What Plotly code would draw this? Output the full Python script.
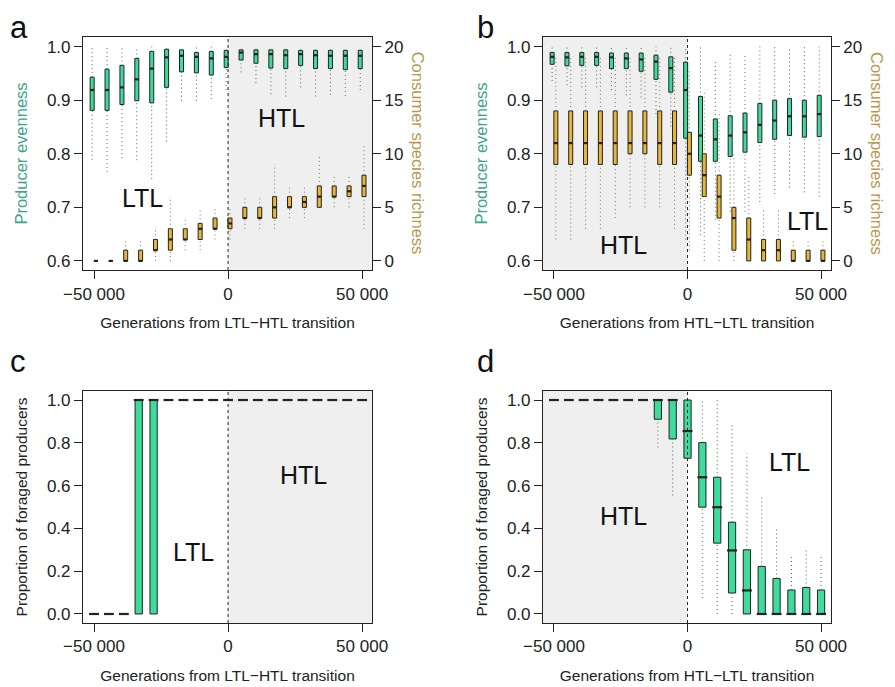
import plotly.graph_objects as go

# generations relative to the transition (box positions)
gens = [-50000, -44444, -38889, -33333, -27778, -22222, -16667, -11111, -5556, 0,
        5556, 11111, 16667, 22222, 27778, 33333, 38889, 44444, 50000]

# ---- panel a: LTL -> HTL ----
a_even_q1 = [.881, .881, .892, .899, .895, .924, .953, .951, .947, .961, .975, .969, .960, .959, .965, .959, .959, .957, .959]
a_even_med = [.919, .919, .924, .939, .959, .980, .983, .981, .978, .981, .989, .986, .986, .984, .986, .984, .983, .983, .983]
a_even_q3 = [.943, .958, .965, .978, .991, .995, .994, .989, .991, .993, .994, .994, .994, .994, .993, .993, .993, .993, .993]
a_even_lo = [.789, .766, .792, .788, .753, .823, .899, .899, .902, .919, .952, .932, .911, .907, .924, .907, .910, .908, .919]
a_even_hi = [1.0] * 19

a_rich_q1 = [0, 0, 0, 0, 1, 1, 2, 2, 3, 3, 4, 4, 4, 5, 5, 5, 6, 6, 6]
a_rich_med = [0, 0, 0, 0, 1, 2, 2, 3, 3, 3.5, 4, 4, 5, 5, 5.5, 6, 6, 6.5, 7]
a_rich_q3 = [0, 0, 1, 1, 2, 3, 3, 3.5, 4, 4, 5, 5, 6, 6, 6, 7, 7, 7, 8]
a_rich_lo = [0, 0, 0, 0, 0, 0, 1, 1, 2, 2, 3, 3, 3, 4, 4, 5, 5, 5, 3]
a_rich_hi = [0, 0, 2, 2, 3, 6, 4, 5, 5, 5, 6, 6, 9, 7, 7, 10, 8, 8, 11]

# ---- panel b: HTL -> LTL ----
b_even_q1 = [.967, .964, .965, .965, .959, .959, .954, .939, .915, .829, .786, .786, .795, .803, .821, .827, .834, .831, .832]
b_even_med = [.981, .980, .981, .981, .980, .978, .976, .972, .960, .919, .834, .827, .834, .840, .854, .862, .870, .870, .874]
b_even_q3 = [.989, .989, .989, .989, .988, .988, .988, .984, .981, .971, .907, .865, .871, .876, .894, .900, .903, .900, .909]
b_even_lo = [.936, .928, .924, .924, .919, .909, .905, .874, .851, .640, .648, .677, .692, .692, .710, .725, .737, .728, .720]
b_even_hi = [1.0, 1.0, 1.0, 1.0, 1.0, 1.0, 1.0, 1.0, 1.0, 1.0, 1.0, .975, .988, .988, 1.0, 1.0, 1.0, 1.0, 1.0]

b_rich_q1 = [9, 9, 9, 9, 9, 10, 10, 9, 9, 8, 6, 4, 1, 0, 0, 0, 0, 0, 0]
b_rich_med = [11, 11, 11, 11, 11, 11, 11, 11, 11, 10, 8, 6, 4, 2, 1, 1, 0, 0, 0]
b_rich_q3 = [14, 14, 14, 14, 14, 14, 14, 14, 14, 12, 10, 8, 5, 4, 2, 2, 1, 1, 1]
b_rich_lo = [2, 2, 3, 3, 4, 5, 5, 5, 3, 1, 0, 0, 0, 0, 0, 0, 0, 0, 0]
b_rich_hi = [19, 19, 19, 19, 19, 19, 19, 19, 19, 18, 16, 14, 10, 8, 5, 5, 2, 2, 2]

# ---- panel c: proportion of foraged producers, LTL -> HTL ----
c_q1 = [0, 0, 0, 0, 0] + [1] * 14
c_med = [0, 0, 0, 1, 1] + [1] * 14
c_q3 = [0, 0, 0, 1, 1] + [1] * 14
c_lo = [0, 0, 0, 0, 0] + [1] * 14
c_hi = [0, 0, 0, 1, 1] + [1] * 14

# ---- panel d: proportion of foraged producers, HTL -> LTL ----
d_q1 = [1] * 7 + [.91, .818, .728, .499, .331, .098, 0, 0, 0, 0, 0, 0]
d_med = [1] * 7 + [1.0, 1.0, .855, .639, .499, .297, .110, 0, 0, 0, 0, 0]
d_q3 = [1] * 7 + [1.0, 1.0, 1.0, .801, .639, .429, .300, .222, .166, .112, .124, .112]
d_lo = [1] * 7 + [.778, .554, .728, .075, 0, 0, 0, 0, 0, 0, 0, 0]
d_hi = [1] * 7 + [1.0, 1.0, 1.0, 1.0, 1.0, .883, .751, .557, .401, .274, .308, .274]

GREEN = '#3ddc9a'
GOLD = '#e8b637'
FONT = 'Liberation Sans, Arial, sans-serif'

fig = go.Figure()


def add_boxes(pos, q1, med, q3, lo, hi, color, wcolor, xa, ya, shift=0, w=1500, mw=None):
    xs = [p + shift for p in pos]
    mw = mw or w
    wx, wy = [], []
    for x, a, b, c, d in zip(xs, lo, q1, q3, hi):
        wx += [x, x, None, x, x, None]
        wy += [a, b, None, c, d, None]
    fig.add_trace(go.Scatter(x=wx, y=wy, mode='lines', xaxis=xa, yaxis=ya,
                             line=dict(color=wcolor, width=1, dash='1px,3px'), hoverinfo='skip'))
    fig.add_trace(go.Bar(x=xs, y=[c - a for a, c in zip(q1, q3)], base=q1, width=w,
                         xaxis=xa, yaxis=ya, marker=dict(color=color, line=dict(color='#222', width=1))))
    mx, my = [], []
    for x, m in zip(xs, med):
        mx += [x - mw / 2, x + mw / 2, None]
        my += [m, m, None]
    fig.add_trace(go.Scatter(x=mx, y=my, mode='lines', xaxis=xa, yaxis=ya,
                             line=dict(color='#222', width=2.2), hoverinfo='skip'))


add_boxes(gens, a_even_q1, a_even_med, a_even_q3, a_even_lo, a_even_hi, GREEN, '#3d6e5e', 'x', 'y', -700)
add_boxes(gens, a_rich_q1, a_rich_med, a_rich_q3, a_rich_lo, a_rich_hi, GOLD, '#8a7545', 'x', 'y2', 700)
add_boxes(gens, b_even_q1, b_even_med, b_even_q3, b_even_lo, b_even_hi, GREEN, '#3d6e5e', 'x2', 'y3', -700)
add_boxes(gens, b_rich_q1, b_rich_med, b_rich_q3, b_rich_lo, b_rich_hi, GOLD, '#8a7545', 'x2', 'y4', 700)
add_boxes(gens, c_q1, c_med, c_q3, c_lo, c_hi, GREEN, '#3d6e5e', 'x3', 'y5', 0, 2700, 3700)
add_boxes(gens, d_q1, d_med, d_q3, d_lo, d_hi, GREEN, '#3d6e5e', 'x4', 'y6', 0, 2700, 3700)

XR = [-54100, 53700]
xd_l, xd_r = [0.0846, 0.4104], [0.6032, 0.9278]
yd_t, yd_b = [0.6141, 0.9573], [0.0943, 0.4359]

axis_common = dict(showline=True, mirror=True, linecolor='#222', linewidth=1.2, ticks='outside',
                   ticklen=8, tickcolor='#222', showgrid=False, zeroline=False, automargin=False,
                   tickfont=dict(size=17, color='#222', family=FONT))
xcommon = dict(axis_common, range=XR, tickvals=[-50000, 0, 50000],
               ticktext=['\u221250 000', '0', '50 000'], title_font=dict(size=15.5, color='#222'),
               title_standoff=14)
ytitle = dict(size=16.5, color='#3aa586')

fig.update_layout(
    width=887, height=679, margin=dict(l=0, r=0, t=0, b=0), showlegend=False,
    plot_bgcolor='white', paper_bgcolor='white', barmode='overlay',
    font=dict(family=FONT),
    xaxis=dict(xcommon, domain=xd_l, anchor='y', title_text='Generations from LTL\u2212HTL transition'),
    xaxis2=dict(xcommon, domain=xd_r, anchor='y3', title_text='Generations from HTL\u2212LTL transition'),
    xaxis3=dict(xcommon, domain=xd_l, anchor='y5', title_text='Generations from LTL\u2212HTL transition'),
    xaxis4=dict(xcommon, domain=xd_r, anchor='y6', title_text='Generations from HTL\u2212LTL transition'),
    yaxis=dict(axis_common, domain=yd_t, anchor='x', range=[0.583, 1.018], tickvals=[.6, .7, .8, .9, 1.0],
               ticktext=['0.6', '0.7', '0.8', '0.9', '1.0'],
               title_text='Producer evenness', title_font=ytitle),
    yaxis2=dict(axis_common, overlaying='y', side='right', anchor='x', range=[-0.85, 20.9],
                tickvals=[0, 5, 10, 15, 20], showline=False),
    yaxis3=dict(axis_common, domain=yd_t, anchor='x2', range=[0.583, 1.018], tickvals=[.6, .7, .8, .9, 1.0],
                ticktext=['0.6', '0.7', '0.8', '0.9', '1.0'],
                title_text='Producer evenness', title_font=ytitle),
    yaxis4=dict(axis_common, overlaying='y3', side='right', anchor='x2', range=[-0.85, 20.9],
                tickvals=[0, 5, 10, 15, 20], showline=False),
    yaxis5=dict(axis_common, domain=yd_b, anchor='x3', range=[-0.042, 1.042],
                tickvals=[0, .2, .4, .6, .8, 1.0], ticktext=['0.0', '0.2', '0.4', '0.6', '0.8', '1.0'],
                title_text='Proportion of foraged producers', title_font=dict(size=15.5, color='#222')),
    yaxis6=dict(axis_common, domain=yd_b, anchor='x4', range=[-0.042, 1.042],
                tickvals=[0, .2, .4, .6, .8, 1.0], ticktext=['0.0', '0.2', '0.4', '0.6', '0.8', '1.0'],
                title_text='Proportion of foraged producers', title_font=dict(size=15.5, color='#222')),
)

# right-hand axis titles read top to bottom, as in the original
for xa, ya in [('x', 'y'), ('x2', 'y3')]:
    fig.add_annotation(xref=xa + ' domain', yref=ya + ' domain', x=1.2, y=0.5,
                       text='Consumer species richness', textangle=90, showarrow=False,
                       font=dict(size=16.5, color='#b8964e', family=FONT))

# shaded regime regions and transition line
for xa, ya, x0, x1 in [('x', 'y', 0, XR[1]), ('x2', 'y3', XR[0], 0),
                       ('x3', 'y5', 0, XR[1]), ('x4', 'y6', XR[0], 0)]:
    fig.add_shape(type='rect', xref=xa, yref=ya + ' domain', x0=x0, x1=x1, y0=0, y1=1,
                  fillcolor='#efefef', line_width=0, layer='below')
    fig.add_shape(type='line', xref=xa, yref=ya + ' domain', x0=0, x1=0, y0=0, y1=1,
                  line=dict(color='#222', width=1, dash='dot'))

labels = [('x', 'y', 20000, 0.866, 'HTL'), ('x', 'y', -32000, 0.717, 'LTL'),
          ('x2', 'y3', -24000, 0.629, 'HTL'), ('x2', 'y4', 45000, 3.7, 'LTL'),
          ('x3', 'y5', 28000, 0.65, 'HTL'), ('x3', 'y5', -13000, 0.29, 'LTL'),
          ('x4', 'y6', -24000, 0.46, 'HTL'), ('x4', 'y6', 38000, 0.71, 'LTL')]
for xa, ya, x, y, t in labels:
    fig.add_annotation(xref=xa, yref=ya, x=x, y=y, text=t, showarrow=False,
                       font=dict(size=25, color='#111', family=FONT))

for x, y, t in [(0.0, 1.0, 'a'), (0.526, 1.0, 'b'), (0.0, 0.508, 'c'), (0.526, 0.508, 'd')]:
    fig.add_annotation(xref='paper', yref='paper', x=x, y=y, text=t, showarrow=False,
                       xanchor='left', yanchor='top', font=dict(size=31, color='#111', family=FONT))

fig.write_html('out.html')
